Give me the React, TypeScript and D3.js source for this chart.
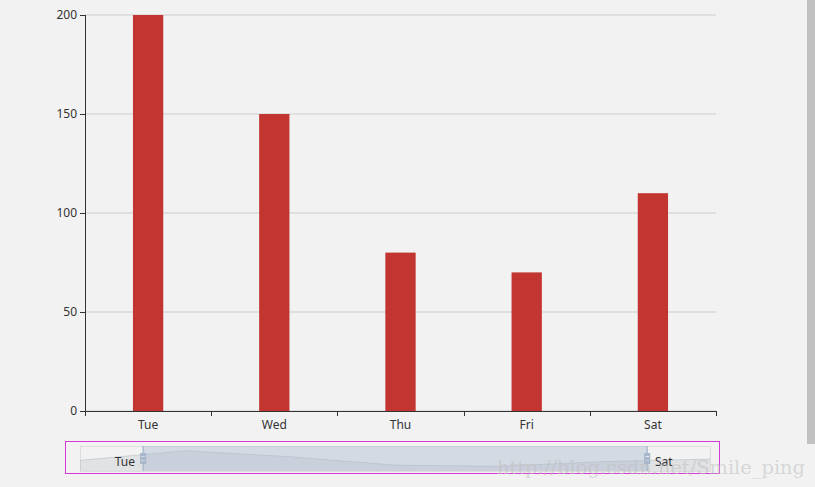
import React from "react";
import * as d3 from "d3";

const allDays = ["Mon", "Tue", "Wed", "Thu", "Fri", "Sat", "Sun"];
const allValues = [120, 200, 150, 80, 70, 110, 130];
const zoomStart = 10; // percent
const zoomEnd = 90;
const yTicks = [0, 50, 100, 150, 200];

const W = 815;
const H = 487;
const grid = { left: 85, right: 716, top: 15, bottom: 411 };
const slider = { left: 80, right: 710, top: 446, bottom: 471 };
const barColor = "#c23531";
const font = "'Noto Sans', 'DejaVu Sans', sans-serif";
const handlePath =
  "M8.2,13.6V3.9H6.3v9.7H3.1v14.9h3.3v9.7h1.8v-9.7h3.3V13.6H8.2z M9.7,24.4H4.8v-1.4h4.9V24.4z M9.7,19.1H4.8v-1.4h4.9V19.1z";

const App: React.FC = () => {
  // which categories are inside the zoom window
  const n = allDays.length;
  const i0 = Math.ceil(((n - 1) * zoomStart) / 100);
  const i1 = Math.floor(((n - 1) * zoomEnd) / 100);
  const days = allDays.slice(i0, i1 + 1);
  const values = allValues.slice(i0, i1 + 1);

  const x = d3.scaleBand<string>().domain(days).range([grid.left, grid.right]);
  const y = d3.scaleLinear().domain([0, 200]).range([grid.bottom, grid.top]);
  const barW = x.bandwidth() * 0.24;

  // slider shadow
  const sx = d3.scalePoint<string>().domain(allDays).range([slider.left, slider.right]);
  const [mn, mx] = d3.extent(allValues) as [number, number];
  const pad = (mx - mn) * 0.3;
  const sy = d3.scaleLinear().domain([mn - pad, mx + pad]).range([slider.bottom, slider.top]);
  const pts: [number, number][] = allDays.map((d, i) => [sx(d) as number, sy(allValues[i])]);
  const line = d3.line()(pts) as string;
  const area = d3
    .area<[number, number]>()
    .x((p) => p[0])
    .y0(slider.bottom)
    .y1((p) => p[1])(pts) as string;
  const pct = d3.scaleLinear().domain([0, 100]).range([slider.left, slider.right]);
  const h0 = pct(zoomStart);
  const h1 = pct(zoomEnd);
  const hs = (slider.bottom - slider.top) / 34.3;

  const boundaries = [...days.map((d) => x(d) as number), grid.right];

  return (
    <div style={{ position: "fixed", left: 0, top: 0 }}>
      <svg width={W} height={H} style={{ display: "block", fontFamily: font }}>
        <rect x={0} y={0} width={W} height={H} fill="#f2f2f2" />
        {/* scrollbar */}
        <rect x={807} y={0} width={8} height={444} fill="#c1c1c1" />

        {/* grid lines */}
        {yTicks.map((t) => (
          <line key={"g" + t} x1={grid.left} x2={grid.right} y1={y(t)} y2={y(t)} stroke="#ccc" />
        ))}

        {/* bars */}
        {days.map((d, i) => (
          <rect
            key={d}
            x={(x(d) as number) + x.bandwidth() / 2 - barW / 2}
            y={y(values[i])}
            width={barW}
            height={y(0) - y(values[i])}
            fill={barColor}
          />
        ))}

        {/* y axis */}
        <line x1={grid.left + 0.5} x2={grid.left + 0.5} y1={grid.top} y2={grid.bottom} stroke="#333" />
        {yTicks.map((t) => (
          <g key={"y" + t}>
            <line x1={grid.left - 5} x2={grid.left} y1={Math.round(y(t)) + 0.5} y2={Math.round(y(t)) + 0.5} stroke="#333" />
            <text x={grid.left - 8} y={y(t)} dy="0.35em" textAnchor="end" fontSize={12} fill="#333">
              {t}
            </text>
          </g>
        ))}

        {/* x axis */}
        <line x1={grid.left} x2={grid.right + 0.5} y1={grid.bottom + 0.5} y2={grid.bottom + 0.5} stroke="#333" />
        {boundaries.map((b, i) => (
          <line key={"xt" + i} x1={Math.round(b) + 0.5} x2={Math.round(b) + 0.5} y1={grid.bottom} y2={grid.bottom + 5} stroke="#333" />
        ))}
        {days.map((d) => (
          <text key={"xl" + d} x={(x(d) as number) + x.bandwidth() / 2} y={grid.bottom + 18} textAnchor="middle" fontSize={12} fill="#333">
            {d}
          </text>
        ))}

        {/* data zoom slider */}
        <rect x={65.5} y={441.5} width={654} height={32} fill="none" stroke="#d63ad6" />
        <rect
          x={slider.left + 0.5}
          y={slider.top + 0.5}
          width={slider.right - slider.left}
          height={slider.bottom - slider.top}
          fill="none"
          stroke="#ddd"
        />
        <path d={area} fill="rgba(47,69,84,0.09)" />
        <path d={line} fill="none" stroke="rgba(47,69,84,0.3)" strokeWidth={0.5} />
        <rect x={h0} y={slider.top} width={h1 - h0} height={slider.bottom - slider.top} fill="rgba(167,183,204,0.4)" />
        {[h0, h1].map((hx, i) => (
          <path
            key={"h" + i}
            d={handlePath}
            transform={`translate(${hx - 7.1 * hs},${slider.top - 3.9 * hs}) scale(${hs})`}
            fill="#a7b7cc"
          />
        ))}
        <text x={h0 - 8} y={(slider.top + slider.bottom) / 2 + 3} dy="0.35em" textAnchor="end" fontSize={12} fill="#333">
          {days[0]}
        </text>
        <text x={h1 + 8} y={(slider.top + slider.bottom) / 2 + 3} dy="0.35em" textAnchor="start" fontSize={12} fill="#333">
          {days[days.length - 1]}
        </text>

        {/* watermark */}
        <text
          x={497}
          y={474}
          fontSize={19}
          fontFamily="'DejaVu Serif', 'Liberation Serif', serif"
          fill="rgba(190,190,190,0.55)"
          textLength={308}
          lengthAdjust="spacingAndGlyphs"
        >
          http://blog.csdn.net/Smile_ping
        </text>
      </svg>
    </div>
  );
};

export default App;
